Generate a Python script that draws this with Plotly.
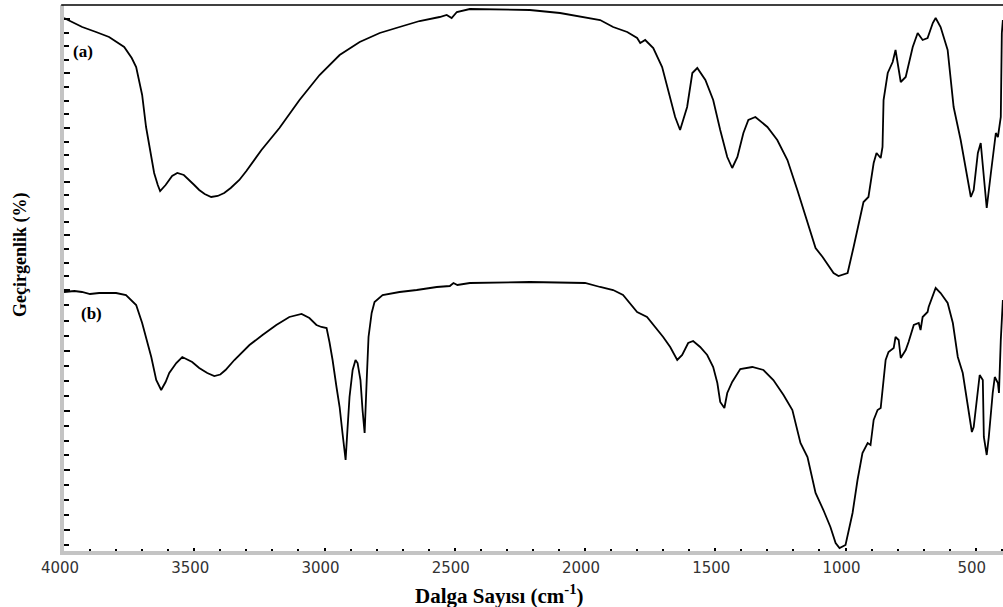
import numpy as np
import plotly.graph_objects as go

# ---- Data ----
wn_a = [4000, 3930, 3877, 3827, 3769, 3740, 3723, 3700, 3685, 3654, 3640, 3631, 3610, 3585, 3565, 3540,
        3500, 3481, 3460, 3435, 3410, 3385, 3360, 3327, 3300, 3269, 3242, 3173, 3096, 3019, 2942, 2865,
        2788, 2712, 2635, 2558,
        2531, 2512, 2492, 2442, 2212, 2096, 1942, 1892, 1838, 1800, 1788, 1769, 1738, 1704, 1681,
        1654, 1635, 1608, 1588, 1569, 1538, 1508, 1481, 1454, 1435, 1415, 1392, 1373, 1346, 1300,
        1262, 1223, 1185, 1173, 1115, 1088, 1046, 1027, 992, 969, 942, 931, 912, 892, 881, 865,
        858, 854, 838, 819, 808, 788, 769, 742, 723, 704, 685, 665, 654, 635, 608, 585, 558, 519,
        508, 492, 481, 469, 458, 442, 423, 415, 404, 400, 396]
t_a = [106.6, 104.8, 103.8, 102.8, 100.8, 98.6, 96.8, 91.2, 84.8, 75.6, 73.2, 72.0, 73.2, 75.0, 75.6, 75.2,
       73.2, 72.2, 71.4, 70.8, 71.0, 71.6, 72.6, 74.2, 76.0, 78.2, 80.2, 84.6, 90.2, 95.2, 99.2, 101.8,
       103.6, 104.8, 106.0, 106.8,
       107.2, 106.6, 107.8, 108.4, 108.2, 107.6, 106.2, 104.8, 103.8, 102.6, 101.6, 102.2, 100.6, 96.8, 92.2,
       86.8, 84.2, 88.8, 95.6, 96.6, 94.2, 90.2, 84.2, 78.8, 76.6, 78.8, 83.6, 86.2, 86.8, 84.8,
       82.2, 78.2, 72.2, 70.2, 60.6, 58.8, 55.6, 55.0, 55.6, 60.8, 67.6, 69.8, 70.8, 77.6, 79.6, 78.6,
       80.8, 90.2, 95.6, 97.8, 100.2, 93.8, 94.8, 100.8, 103.6, 102.2, 102.6, 105.6, 106.6, 104.8, 100.2, 88.8, 82.2, 70.8,
       72.2, 79.6, 81.6, 74.8, 68.6, 75.6, 83.6, 82.8, 86.8, 103.6, 106.2]

wn_b = [4000, 3960, 3931, 3900, 3865, 3800, 3762, 3723, 3700, 3685, 3665, 3646, 3627, 3610, 3596, 3569,
        3546, 3508, 3481, 3450, 3423, 3400, 3380, 3346, 3288, 3238, 3185, 3135, 3088, 3058, 3031, 3012, 2992,
        2981, 2969, 2954, 2942, 2931, 2919, 2912, 2904, 2892, 2881, 2873, 2862, 2854, 2846, 2838,
        2831, 2819, 2808, 2777, 2712, 2646, 2569, 2519, 2505, 2490, 2442, 2212, 2000, 1942, 1892,
        1854, 1800, 1762, 1731, 1700, 1673, 1646, 1627, 1604, 1585, 1558, 1531, 1508, 1492, 1481,
        1465, 1454, 1435, 1404, 1358, 1315, 1277, 1238, 1204, 1173, 1146, 1115, 1085, 1058, 1038,
        1023, 1000, 973, 954, 935, 915, 904, 892, 877, 865, 858, 846, 835, 815, 808, 796, 788,
        769, 758, 738, 719, 712, 704, 685, 681, 665, 654, 635, 608, 588, 569, 550, 531, 515, 508,
        492, 485, 473, 469, 458, 450, 435, 427, 415, 411, 404, 396]
t_b = [51.8, 52.0, 51.8, 51.4, 51.6, 51.6, 51.2, 49.2, 45.6, 42.8, 38.8, 34.2, 32.2, 33.8, 35.6, 37.6,
       38.8, 37.8, 36.6, 35.6, 35.0, 35.3, 36.2, 38.2, 41.2, 43.2, 45.2, 46.8, 47.4, 46.6, 45.2, 44.8, 44.6,
       41.8, 38.2, 32.8, 28.8, 23.6, 18.2, 24.2, 30.8, 36.2, 38.2, 37.6, 34.2, 28.2, 23.6, 34.2,
       42.8, 47.6, 49.8, 51.2, 51.8, 52.2, 52.8, 53.0, 53.6, 53.2, 53.6, 53.8, 53.6, 52.8, 52.2,
       51.2, 47.8, 46.8, 44.8, 42.8, 40.8, 38.2, 39.2, 41.6, 42.0, 40.8, 39.2, 36.8, 33.6, 29.8,
       28.6, 31.6, 33.8, 36.4, 36.8, 36.2, 34.2, 31.2, 28.2, 21.6, 18.8, 11.6, 8.2, 4.8, 1.6,
       0.6, 1.2, 7.6, 14.2, 19.6, 21.6, 21.2, 26.2, 28.2, 28.6, 32.2, 38.2, 39.8, 40.6, 42.8, 42.2, 38.6,
       40.2, 41.8, 45.2, 45.6, 44.2, 46.8, 47.8, 48.8, 51.2, 52.6, 51.6, 49.6, 45.6, 38.8, 35.6, 28.8, 23.8, 24.8,
       31.6, 35.2, 34.2, 22.8, 19.2, 22.8, 31.6, 34.8, 33.6, 31.6, 42.2, 50.2]

x_ticks = [4000, 3500, 3000, 2500, 2000, 1500, 1000, 500]
x_ticklabels = ["4000", "3500", "3000", "2500", "2000", "1500", "1000", "500"]
y_major_ticks = [106.4, 95.6, 84.6, 73.8, 63.2, 52.2, 40.0, 28.0, 16.2, 4.2]

labels = ["(a)", "(b)"]
label_pos_wn = [3927, 3896]
label_pos_t = [100.0, 47.6]

x_title = "Dalga Sayısı (cm<sup>-1</sup>)"
y_title = "Geçirgenlik (%)"

# minor y ticks: three between each pair of majors, plus one below the last
y_minor = []
for a, b in zip(y_major_ticks[:-1], y_major_ticks[1:]):
    y_minor += list(np.linspace(a, b, 5)[1:-1])
step = y_major_ticks[-2] - y_major_ticks[-1]
y_minor.append(y_major_ticks[-1] - step / 4)

fig = go.Figure()
for wn, t in [(wn_a, t_a), (wn_b, t_b)]:
    fig.add_trace(go.Scatter(x=wn, y=t, mode="lines",
                             line=dict(color="black", width=1.8),
                             showlegend=False, hoverinfo="skip"))

for lab, xw, yt in zip(labels, label_pos_wn, label_pos_t):
    fig.add_annotation(x=xw, y=yt, text="<b>%s</b>" % lab, showarrow=False,
                       xanchor="center", yanchor="middle",
                       font=dict(family="Liberation Serif", size=17, color="black"))

fig.add_annotation(xref="paper", yref="paper", x=0.464, y=-0.079, text="<b>%s</b>" % x_title,
                   xanchor="center", yanchor="middle",
                   showarrow=False, font=dict(family="Liberation Serif", size=21, color="black"))
fig.add_annotation(xref="paper", yref="paper", x=-0.047, y=0.542, text="<b>%s</b>" % y_title,
                   xanchor="center", yanchor="middle",
                   textangle=-90, showarrow=False,
                   font=dict(family="Liberation Serif", size=18, color="black"))

# top border line
fig.add_shape(type="line", xref="paper", yref="paper", x0=-0.003, x1=1, y0=1, y1=1,
              line=dict(color="black", width=1.5))

fig.update_layout(
    width=1003, height=607,
    margin=dict(l=64, r=0, t=5, b=56, autoexpand=False),
    paper_bgcolor="white", plot_bgcolor="white",
    xaxis=dict(range=[4000, 395.5], showgrid=False, zeroline=False, automargin=False,
               tickmode="array", tickvals=x_ticks, ticktext=x_ticklabels,
               ticks="inside", ticklen=3, tickwidth=2, tickcolor="black",
               ticklabelshift=4,
               showline=True, linecolor="#c4c4c4", linewidth=4,
               tickfont=dict(family="DejaVu Sans", size=15, color="#333"),
               minor=dict(dtick=100, ticks="inside", ticklen=2, tickwidth=1.5, tickcolor="black")),
    yaxis=dict(range=[0, 109.2], showgrid=False, zeroline=False, automargin=False,
               tickmode="array", tickvals=y_major_ticks, showticklabels=False,
               ticks="inside", ticklen=6, tickwidth=1.5, tickcolor="black",
               showline=True, linecolor="#c4c4c4", linewidth=4,
               minor=dict(tickmode="array", tickvals=y_minor, ticks="inside",
                          ticklen=5, tickwidth=1.5, tickcolor="black")),
)

fig.write_html("out.html", config={"displayModeBar": False},
               post_script="document.body.style.margin='0';document.body.style.overflow='hidden';")
